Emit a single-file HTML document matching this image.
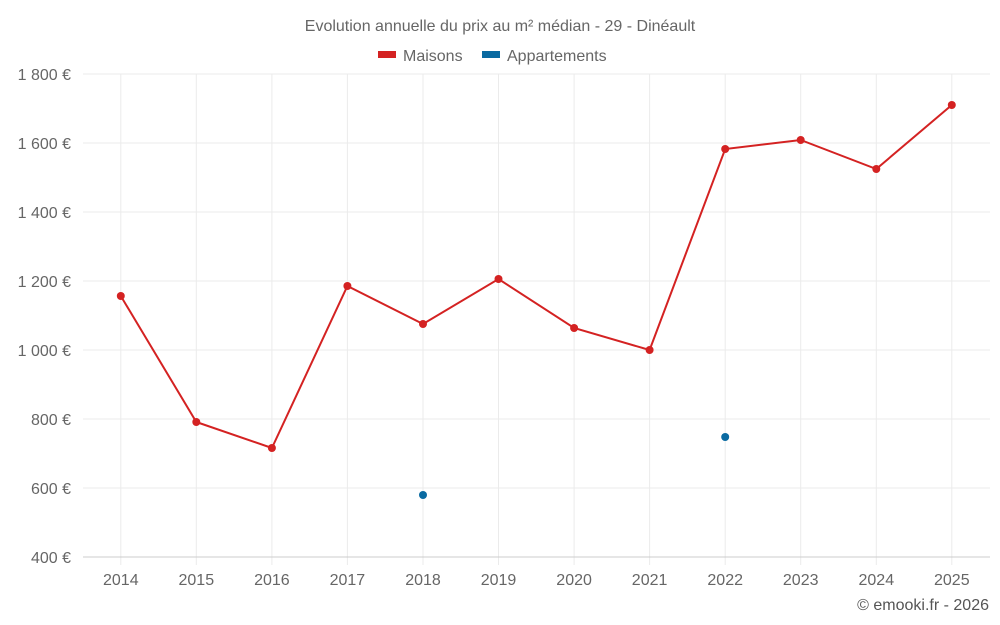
<!DOCTYPE html>
<html><head><meta charset="utf-8"><style>
html,body{margin:0;padding:0;background:#fff;}
svg{display:block;font-family:"Liberation Sans",sans-serif;}
</style></head><body>
<svg width="1000" height="625" viewBox="0 0 1000 625">
<text x="500" y="31" text-anchor="middle" font-size="16" fill="#666">Evolution annuelle du prix au m² médian - 29 - Dinéault</text>
<rect x="378" y="51" width="18" height="7" fill="#d42222"/>
<text x="403" y="61" font-size="16" fill="#666">Maisons</text>
<rect x="482" y="51" width="18" height="7" fill="#0a6aa1"/>
<text x="507" y="61" font-size="16" fill="#666">Appartements</text>
<g stroke="#ebebeb" stroke-width="1">
<line x1="83" y1="74" x2="990" y2="74"/><line x1="83" y1="143" x2="990" y2="143"/>
<line x1="83" y1="212" x2="990" y2="212"/><line x1="83" y1="281" x2="990" y2="281"/>
<line x1="83" y1="350" x2="990" y2="350"/><line x1="83" y1="419" x2="990" y2="419"/>
<line x1="83" y1="488" x2="990" y2="488"/>
<line x1="120.8" y1="74" x2="120.8" y2="565"/><line x1="196.3" y1="74" x2="196.3" y2="565"/>
<line x1="271.9" y1="74" x2="271.9" y2="565"/><line x1="347.4" y1="74" x2="347.4" y2="565"/>
<line x1="423" y1="74" x2="423" y2="565"/><line x1="498.5" y1="74" x2="498.5" y2="565"/>
<line x1="574.1" y1="74" x2="574.1" y2="565"/><line x1="649.6" y1="74" x2="649.6" y2="565"/>
<line x1="725.2" y1="74" x2="725.2" y2="565"/><line x1="800.7" y1="74" x2="800.7" y2="565"/>
<line x1="876.3" y1="74" x2="876.3" y2="565"/><line x1="951.8" y1="74" x2="951.8" y2="565"/>
</g>
<line x1="83" y1="557" x2="990" y2="557" stroke="#ccc"/>
<g font-size="16" fill="#666" text-anchor="end">
<text x="71" y="80">1 800 €</text><text x="71" y="149">1 600 €</text>
<text x="71" y="218">1 400 €</text><text x="71" y="287">1 200 €</text>
<text x="71" y="356">1 000 €</text><text x="71" y="425">800 €</text>
<text x="71" y="494">600 €</text><text x="71" y="563">400 €</text>
</g>
<g font-size="16" fill="#666" text-anchor="middle">
<text x="120.8" y="585">2014</text><text x="196.3" y="585">2015</text><text x="271.9" y="585">2016</text>
<text x="347.4" y="585">2017</text><text x="423" y="585">2018</text><text x="498.5" y="585">2019</text>
<text x="574.1" y="585">2020</text><text x="649.6" y="585">2021</text><text x="725.2" y="585">2022</text>
<text x="800.7" y="585">2023</text><text x="876.3" y="585">2024</text><text x="951.8" y="585">2025</text>
</g>
<polyline fill="none" stroke="#d42222" stroke-width="2" points="120.8,296 196.3,422 271.9,448 347.4,286 423,324 498.5,279 574.1,328 649.6,350 725.2,149 800.7,140 876.3,169 951.8,105"/>
<g fill="#d42222">
<circle cx="120.8" cy="296" r="4"/><circle cx="196.3" cy="422" r="4"/><circle cx="271.9" cy="448" r="4"/>
<circle cx="347.4" cy="286" r="4"/><circle cx="423" cy="324" r="4"/><circle cx="498.5" cy="279" r="4"/>
<circle cx="574.1" cy="328" r="4"/><circle cx="649.6" cy="350" r="4"/><circle cx="725.2" cy="149" r="4"/>
<circle cx="800.7" cy="140" r="4"/><circle cx="876.3" cy="169" r="4"/><circle cx="951.8" cy="105" r="4"/>
</g>
<g fill="#0a6aa1"><circle cx="423" cy="495" r="4"/><circle cx="725.2" cy="437" r="4"/></g>
<text x="989" y="610" text-anchor="end" font-size="16" fill="#555">© emooki.fr - 2026</text>
</svg>
</body></html>
